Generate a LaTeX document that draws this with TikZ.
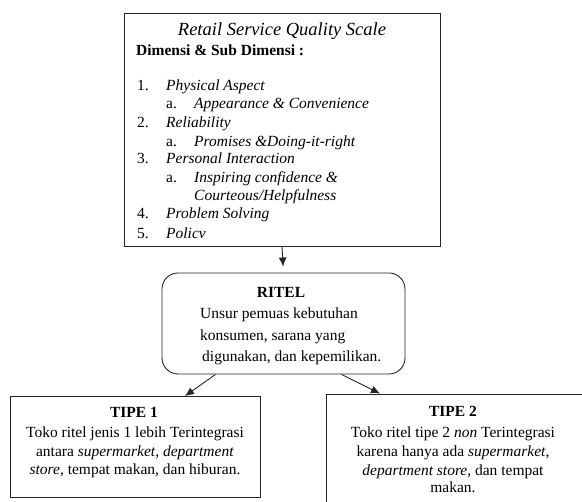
\documentclass[tikz,border=0pt]{standalone}
\usepackage{fontspec}
\setmainfont{Liberation Serif}
\usetikzlibrary{arrows.meta,positioning}

\tikzset{
  kotak/.style={draw=black!85, line width=0.9pt, inner sep=0pt},
  teks/.style={inner sep=0pt, anchor=base, font=\fontsize{15.5}{17}\selectfont},
  kiri/.style={teks, anchor=base west},
  tebal/.style={teks, font=\fontsize{15.5}{17}\selectfont\bfseries},
  panah/.style={-{Latex[length=9pt,width=8pt]}, line width=0.9pt, draw=black!85}
}

\begin{document}
\begin{tikzpicture}[x=1pt,y=-1pt]
  \useasboundingbox (0,0) rectangle (582,502);
  \clip (0,0) rectangle (582,502);

  % Kotak dimensi RSQS
  \node[kotak, minimum width=316pt, minimum height=233pt] (rsqs) at (282,129.5) {};
  \node[teks, font=\fontsize{18.5}{20}\selectfont\itshape] (judul) at (282,36) {Retail Service Quality Scale};
  \node[tebal, anchor=base west] (dimensi) at (136,56) {Dimensi \& Sub Dimensi :};

  \node[kiri] (n1) at (137,91) {1.};  \node[kiri] (d1) at (166,91) {\itshape Physical Aspect};
  \node[kiri] (a1) at (166,109) {a.}; \node[kiri] (s1) at (194,109) {\itshape Appearance \& Convenience};
  \node[kiri] (n2) at (137,128) {2.}; \node[kiri] (d2) at (166,128) {\itshape Reliability};
  \node[kiri] (a2) at (166,147) {a.}; \node[kiri] (s2) at (194,147) {\itshape Promises \&Doing-it-right};
  \node[kiri] (n3) at (137,164) {3.}; \node[kiri] (d3) at (166,164) {\itshape Personal Interaction};
  \node[kiri] (a3) at (166,183) {a.}; \node[kiri] (s3) at (194,183) {\itshape Inspiring confidence \&};
  \node[kiri] (s3b) at (194,201) {\itshape Courteous/Helpfulness};
  \node[kiri] (n4) at (137,219) {4.}; \node[kiri] (d4) at (166,219) {\itshape Problem Solving};
  \node[kiri] (n5) at (137,239) {5.}; \node[kiri] (d5) at (166,239) {\itshape Policv};

  % Kotak ritel
  \node[kotak, rounded corners=16pt, minimum width=243pt, minimum height=101pt] (ritel) at (283.5,323.5) {};
  \node[tebal] (ritelj) at (281,298) {RITEL};
  \node[kiri] (r1) at (200,319) {Unsur pemuas kebutuhan};
  \node[kiri] (r2) at (200,341) {konsumen, sarana yang};
  \node[kiri] (r3) at (202,362) {digunakan, dan kepemilikan.};

  % Tipe 1
  \node[kotak, minimum width=250pt, minimum height=101pt] (tipe1) at (135,447) {};
  \node[tebal] (t1j) at (134,418) {TIPE 1};
  \node[teks] (t1a) at (135,438) {Toko ritel jenis 1 lebih Terintegrasi};
  \node[teks] (t1b) at (135,457) {antara \textit{supermarket, department}};
  \node[teks] (t1c) at (135,475) {\textit{store,} tempat makan, dan hiburan.};

  % Tipe 2
  \node[kotak, minimum width=274pt, minimum height=120pt] (tipe2) at (463,454) {};
  \node[tebal] (t2j) at (453,417) {TIPE 2};
  \node[teks] (t2a) at (453,438) {Toko ritel tipe 2 \textit{non} Terintegrasi};
  \node[teks] (t2b) at (453,457) {karena hanya ada \textit{supermarket,}};
  \node[teks] (t2c) at (453,476) {\textit{department store,} dan tempat};
  \node[teks] (t2d) at (453,493) {makan.};

  % Panah
  \draw[panah, shorten >=6pt] (rsqs.south) -- (ritel.north);
  \draw[panah] ([xshift=-68pt]ritel.south) -- ([xshift=50pt]tipe1.north);
  \draw[panah] ([xshift=58pt]ritel.south) -- ([xshift=-83pt]tipe2.north);
\end{tikzpicture}
\end{document}
